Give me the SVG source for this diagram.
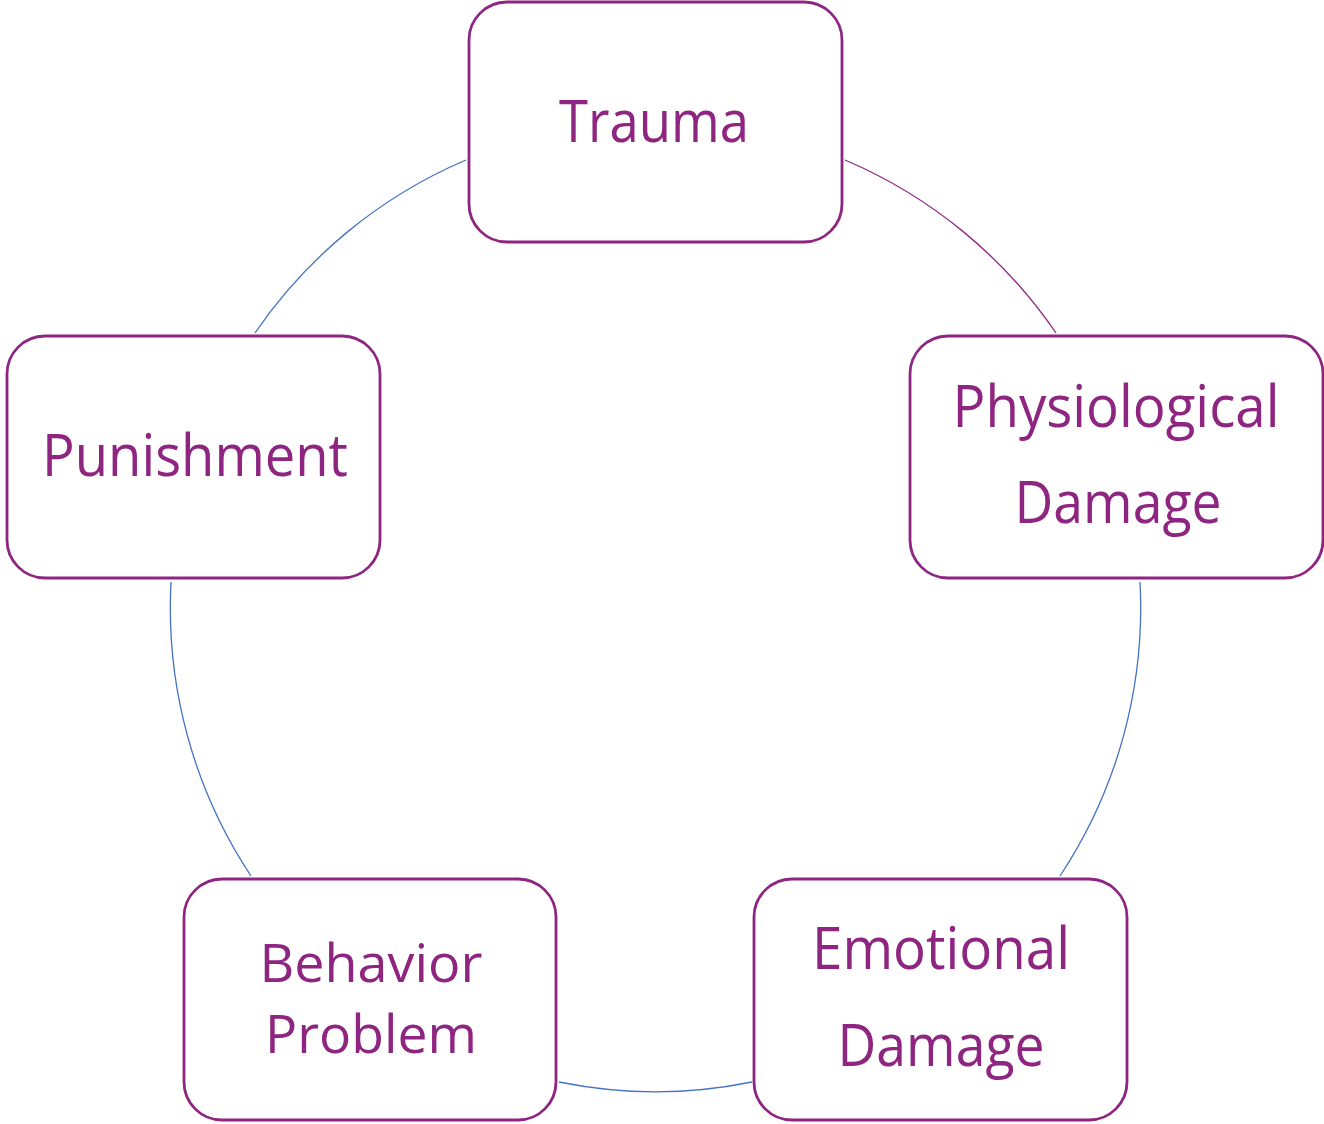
<svg xmlns="http://www.w3.org/2000/svg" width="1324" height="1124" viewBox="0 0 1324 1124">
<style>
.box{fill:#fff;stroke:#8E2581;stroke-width:2.8}
.lbl{font-family:"Open Sans","Noto Sans","Liberation Sans",sans-serif;font-size:58px;fill:#8E2581;text-anchor:middle}
.tight{font-size:53px}
.arc{fill:none;stroke:#4472C4;stroke-width:1.3}
.arcp{fill:none;stroke:#8E2581;stroke-width:1.3}
</style>
<rect width="1324" height="1124" fill="#fff"/>
<g id="connectors">
<path class="arcp" d="M845,160 A485.6,485.6 0 0 1 1056,333"/>
<path class="arc" d="M1140,582 A485.6,485.6 0 0 1 1060,876"/>
<path class="arc" d="M752,1082 A485.6,485.6 0 0 1 559,1082"/>
<path class="arc" d="M251,876 A485.6,485.6 0 0 1 171,582"/>
<path class="arc" d="M255,333 A485.6,485.6 0 0 1 466,160"/>
</g>
<g id="trauma">
<rect class="box" x="469" y="2" width="373" height="240" rx="38"/>
<text class="lbl" x="654" y="142" textLength="190" lengthAdjust="spacingAndGlyphs">Trauma</text>
</g>
<g id="physiological">
<rect class="box" x="910" y="336" width="413" height="242" rx="38"/>
<text class="lbl" x="1116" y="427" textLength="327" lengthAdjust="spacingAndGlyphs">Physiological</text>
<text class="lbl" x="1118" y="523" textLength="207" lengthAdjust="spacingAndGlyphs">Damage</text>
</g>
<g id="emotional">
<rect class="box" x="754" y="879" width="373" height="241" rx="38"/>
<text class="lbl" x="941" y="969" textLength="258" lengthAdjust="spacingAndGlyphs">Emotional</text>
<text class="lbl" x="941" y="1066" textLength="207" lengthAdjust="spacingAndGlyphs">Damage</text>
</g>
<g id="behavior">
<rect class="box" x="184" y="879" width="372" height="241" rx="38"/>
<text class="lbl tight" x="371" y="982" textLength="223" lengthAdjust="spacingAndGlyphs">Behavior</text>
<text class="lbl tight" x="371" y="1053" textLength="212" lengthAdjust="spacingAndGlyphs">Problem</text>
</g>
<g id="punishment">
<rect class="box" x="7" y="336" width="373" height="242" rx="38"/>
<text class="lbl" x="195" y="476" textLength="306" lengthAdjust="spacingAndGlyphs">Punishment</text>
</g>
</svg>
